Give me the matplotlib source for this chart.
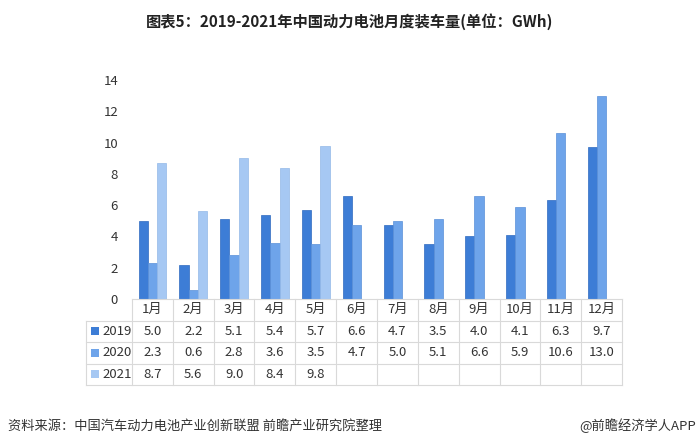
import matplotlib.pyplot as plt
import matplotlib.transforms as mtransforms
import numpy as np
from matplotlib.patches import Rectangle

plt.rcParams['font.family'] = ['Noto Sans CJK SC', 'DejaVu Sans']

months = ["1月", "2月", "3月", "4月", "5月", "6月", "7月", "8月", "9月", "10月", "11月", "12月"]
years = ["2019", "2020", "2021"]
v2019 = [5.0, 2.2, 5.1, 5.4, 5.7, 6.6, 4.7, 3.5, 4.0, 4.1, 6.3, 9.7]
v2020 = [2.3, 0.6, 2.8, 3.6, 3.5, 4.7, 5.0, 5.1, 6.6, 5.9, 10.6, 13.0]
v2021 = [8.7, 5.6, 9.0, 8.4, 9.8]

COLORS = ["#3D7DD6", "#6EA4EA", "#A6C8F3"]
EDGES = ["#2F6AC0", "#5A90D8", "#93B8E8"]
GRID = "#D9D9D9"
TXT = "#333333"

fig = plt.figure(figsize=(7, 4.48), dpi=100)
ax = fig.add_axes([132 / 700, 149 / 448, 490 / 700, 219 / 448])

x = np.arange(len(months))
w = 0.225
series = [v2019, v2020, v2021]
for i, vals in enumerate(series):
    xi = x[:len(vals)] + (i - 1) * w
    ax.bar(xi, vals, w, color=COLORS[i], edgecolor=EDGES[i], linewidth=0.5)

ax.set_xlim(-0.5, len(months) - 0.5)
ax.set_ylim(0, 14)
ax.set_yticks(range(0, 15, 2))
ax.tick_params(axis="y", length=0, pad=10, labelsize=9.5, labelcolor=TXT)
ax.set_xticks([])
for s in ax.spines.values():
    s.set_visible(False)

# data table drawn under the axes: x in data units, y in axes fraction
trans = mtransforms.blended_transform_factory(ax.transData, ax.transAxes)
col_w = 490 / len(months)            # pixels per month column
lab_left = -0.5 - 46 / col_w         # left edge of the row-label column
row_h = 21.5 / 219
right = len(months) - 0.5
line_kw = dict(color=GRID, linewidth=0.8, transform=trans, clip_on=False)

# horizontal lines
ax.plot([-0.5, right], [0, 0], **line_kw)
for r in range(1, 5):
    ax.plot([lab_left, right], [-r * row_h, -r * row_h], **line_kw)
# vertical lines
ax.plot([lab_left, lab_left], [-row_h, -4 * row_h], **line_kw)
for k in range(len(months) + 1):
    ax.plot([k - 0.5, k - 0.5], [0, -4 * row_h], **line_kw)

for k, m in enumerate(months):
    ax.text(k, -0.5 * row_h, m, transform=trans, ha="center", va="center",
            fontsize=9.5, color=TXT, clip_on=False)
for i, vals in enumerate(series):
    yc = -(i + 1.5) * row_h
    for k, v in enumerate(vals):
        ax.text(k, yc, f"{v:.1f}", transform=trans, ha="center", va="center",
                fontsize=9.5, color=TXT, clip_on=False)
    ax.text(lab_left + 16 / col_w, yc, years[i], transform=trans, ha="left",
            va="center", fontsize=9.5, color=TXT, clip_on=False)
    ax.add_patch(Rectangle((lab_left + 5 / col_w, yc - 4 / 219), 8 / col_w, 8 / 219,
                           transform=trans, clip_on=False,
                           facecolor=COLORS[i], edgecolor="none"))

fig.text(0.5, 1 - 22 / 448, "图表5：2019-2021年中国动力电池月度装车量(单位：GWh)",
         ha="center", va="center", fontsize=11, fontweight="bold", color="#222222")
fig.text(8 / 700, 1 - 426 / 448, "资料来源：中国汽车动力电池产业创新联盟 前瞻产业研究院整理",
         ha="left", va="center", fontsize=9.5, color=TXT)
fig.text(696 / 700, 1 - 426 / 448, "@前瞻经济学人APP",
         ha="right", va="center", fontsize=9.5, color=TXT)

fig.savefig("out.png", dpi=100)
